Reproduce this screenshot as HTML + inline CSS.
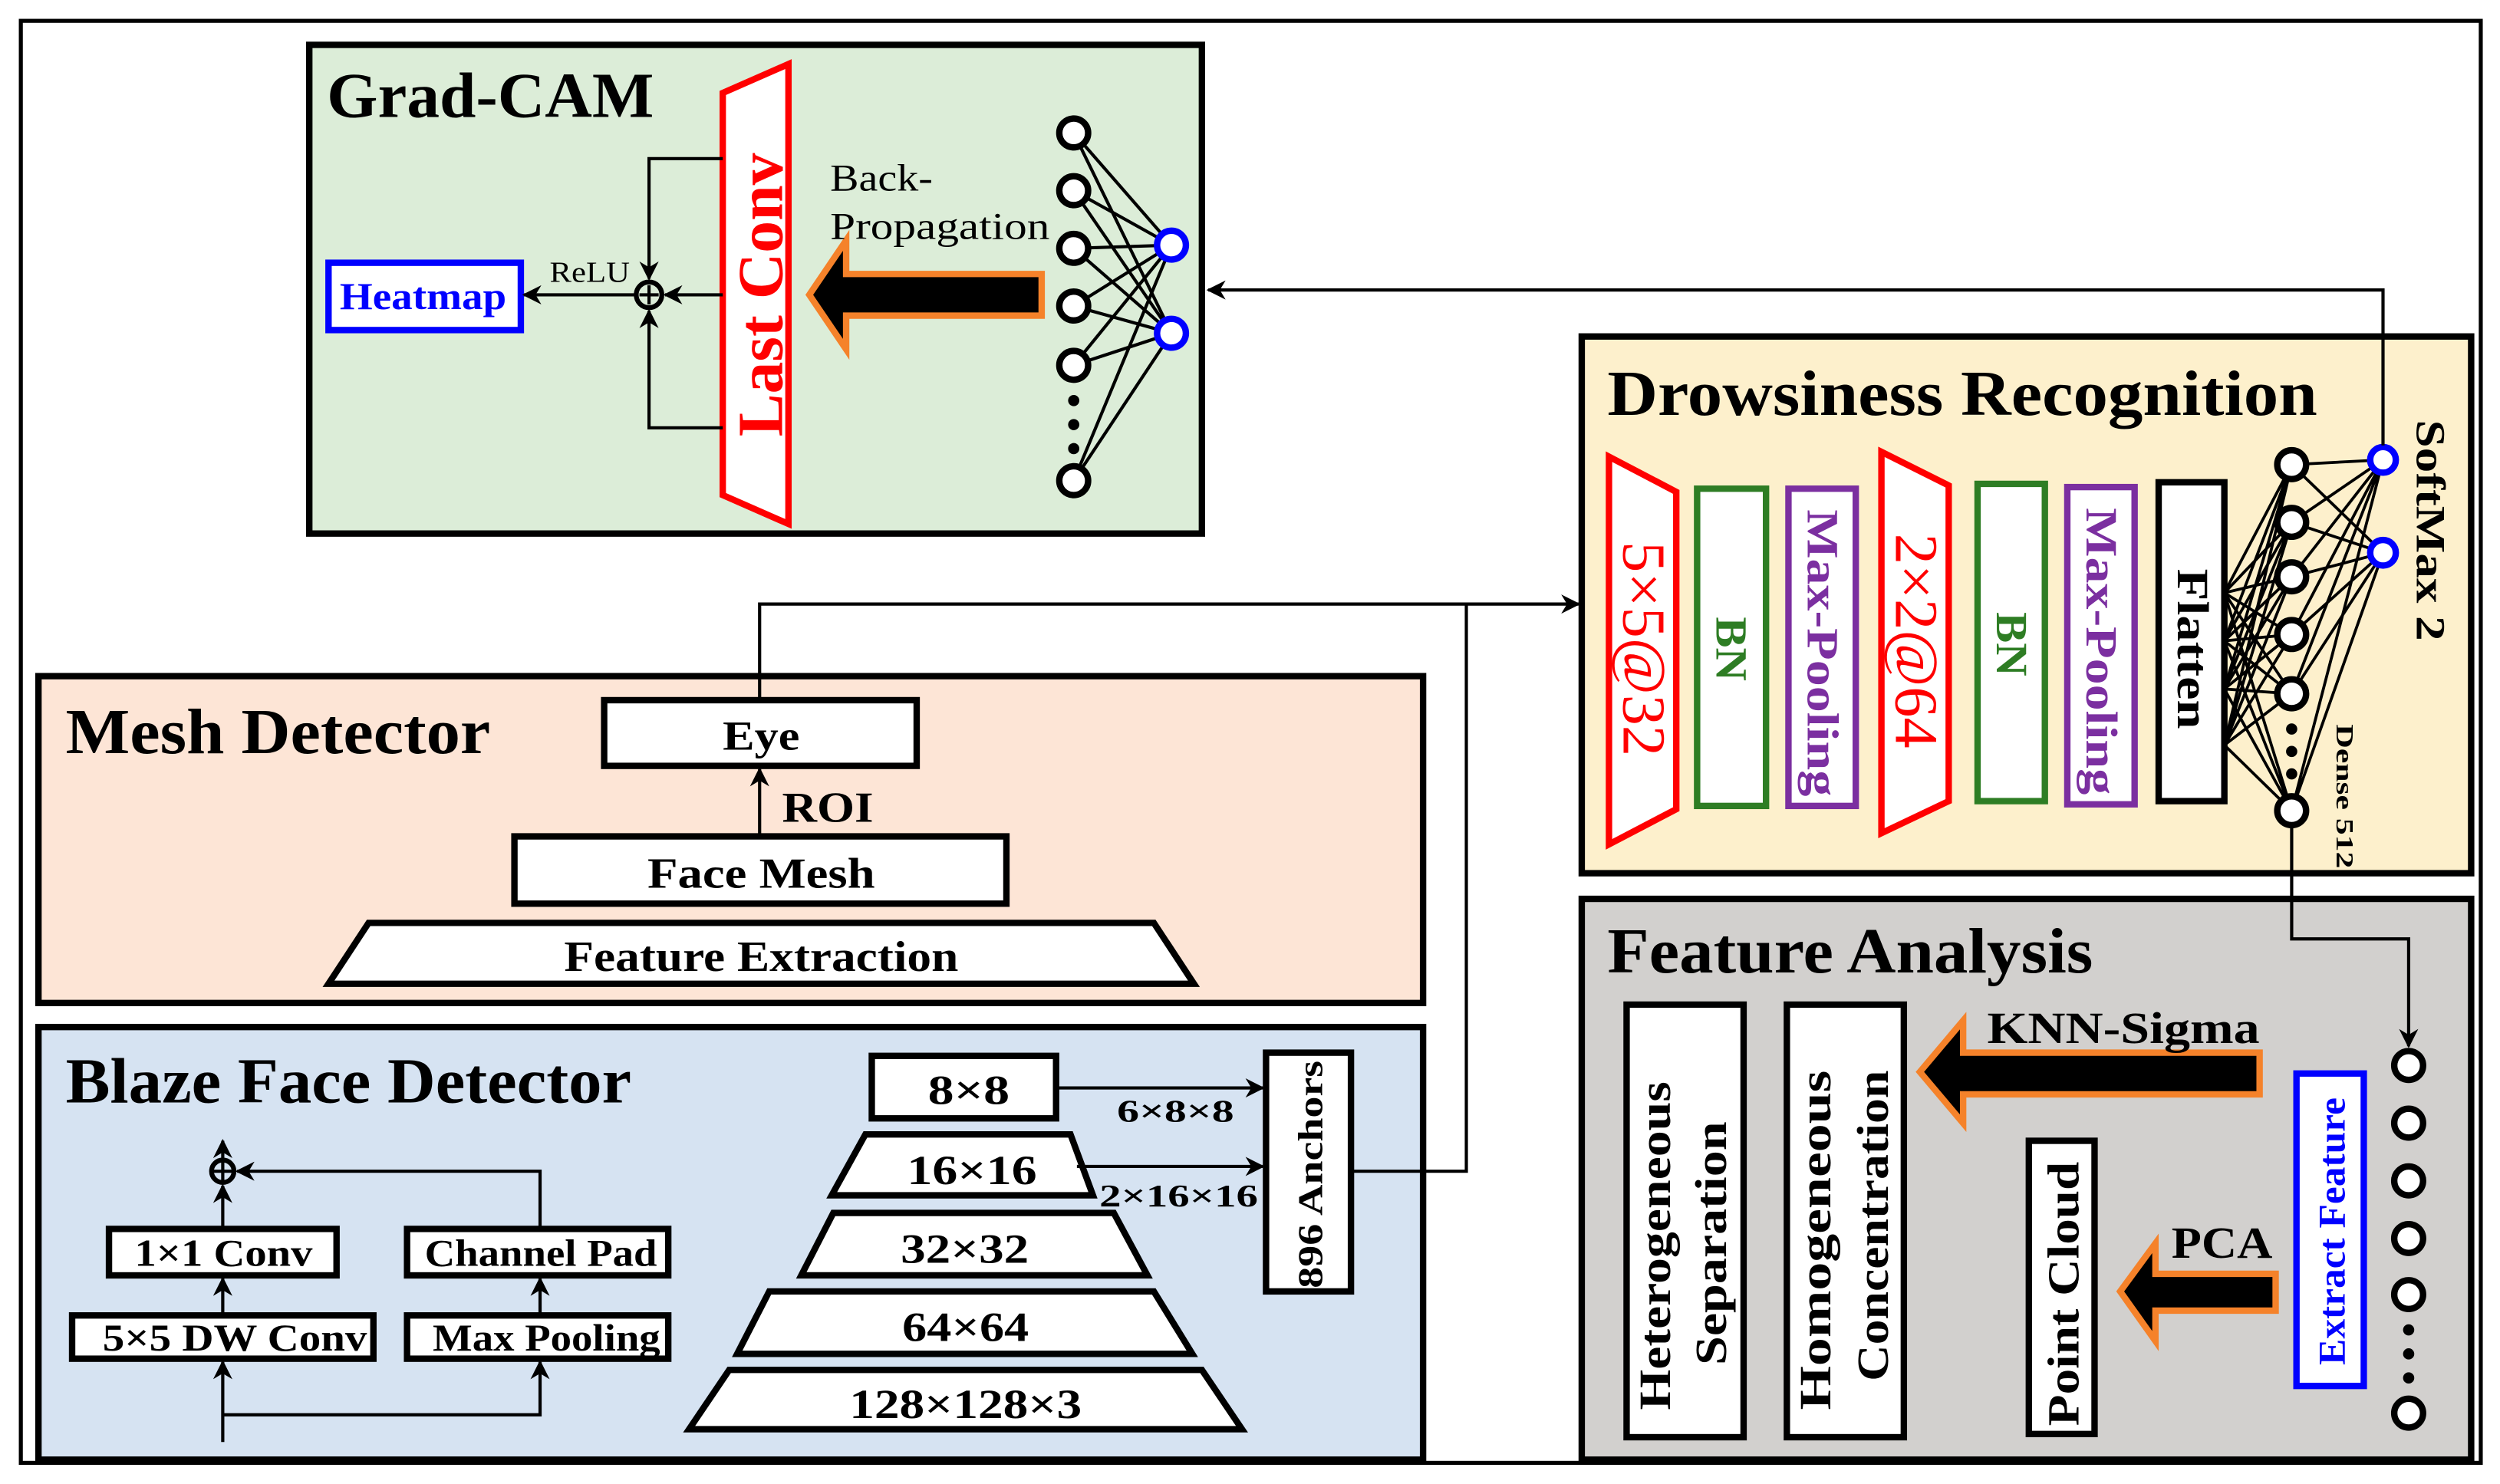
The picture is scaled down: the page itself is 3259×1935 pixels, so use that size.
<!DOCTYPE html>
<html><head><meta charset="utf-8"><style>html,body{margin:0;padding:0;background:#fff}svg{display:block}</style></head><body>
<svg width="3259" height="1935" viewBox="0 0 1560 926.2" preserveAspectRatio="none" xmlns="http://www.w3.org/2000/svg" font-family="Liberation Serif, serif">
<defs>
<marker id="ab" viewBox="0 0 10 10" refX="9" refY="5" markerWidth="12" markerHeight="12" markerUnits="userSpaceOnUse" orient="auto"><path d="M0,0 L10,5 L0,10 L3,5 z" fill="#000"/></marker>
</defs>
<rect width="1560" height="926.2" fill="#fff"/>
<rect x="13" y="13" width="1535" height="900" fill="none" stroke="#000" stroke-width="2.5"/>

<!-- Grad-CAM -->
<rect x="193" y="28" width="557" height="305" fill="#dcedd8" stroke="#000" stroke-width="4"/>
<text x="204" y="73" font-size="40" font-weight="bold" textLength="204" lengthAdjust="spacingAndGlyphs">Grad-CAM</text>
<polygon points="451,58 492,40 492,327 451,309" fill="#fff" stroke="#f00" stroke-width="4"/>
<text transform="translate(488,184) rotate(-90)" text-anchor="middle" font-size="40" font-weight="bold" fill="#f00" textLength="177" lengthAdjust="spacingAndGlyphs">Last Conv</text>
<rect x="205" y="164" width="120" height="42" fill="#fff" stroke="#00f" stroke-width="4"/>
<text x="212" y="193" font-size="24" font-weight="bold" fill="#00f" textLength="104" lengthAdjust="spacingAndGlyphs">Heatmap</text>
<circle cx="405" cy="184" r="8" fill="none" stroke="#000" stroke-width="3"/>
<line x1="399" y1="184" x2="411" y2="184" stroke="#000" stroke-width="2"/><line x1="405" y1="178" x2="405" y2="190" stroke="#000" stroke-width="2"/>
<polyline points="451,99 405,99 405,174" fill="none" stroke="#000" stroke-width="2" marker-end="url(#ab)"/>
<polyline points="451,267 405,267 405,194" fill="none" stroke="#000" stroke-width="2" marker-end="url(#ab)"/>
<line x1="451" y1="184" x2="415" y2="184" stroke="#000" stroke-width="2" marker-end="url(#ab)"/>
<line x1="397" y1="184" x2="327" y2="184" stroke="#000" stroke-width="2" marker-end="url(#ab)"/>
<text x="343" y="176" font-size="18" textLength="50" lengthAdjust="spacingAndGlyphs">ReLU</text>
<polygon points="505,184 528,150 528,171 650,171 650,197 528,197 528,218" fill="#000" stroke="#f5822a" stroke-width="4"/>
<text x="518" y="119" font-size="24" textLength="64" lengthAdjust="spacingAndGlyphs">Back-</text>
<text x="518" y="149" font-size="24" textLength="137" lengthAdjust="spacingAndGlyphs">Propagation</text>
<g stroke="#000" stroke-width="2">
<line x1="670" y1="83" x2="731" y2="153"/><line x1="670" y1="83" x2="731" y2="208"/>
<line x1="670" y1="119" x2="731" y2="153"/><line x1="670" y1="119" x2="731" y2="208"/>
<line x1="670" y1="155" x2="731" y2="153"/><line x1="670" y1="155" x2="731" y2="208"/>
<line x1="670" y1="191" x2="731" y2="153"/><line x1="670" y1="191" x2="731" y2="208"/>
<line x1="670" y1="228" x2="731" y2="153"/><line x1="670" y1="228" x2="731" y2="208"/>
<line x1="670" y1="300" x2="731" y2="153"/><line x1="670" y1="300" x2="731" y2="208"/>
</g>
<g fill="#fff" stroke="#000" stroke-width="4">
<circle cx="670" cy="83" r="9"/><circle cx="670" cy="119" r="9"/><circle cx="670" cy="155" r="9"/><circle cx="670" cy="191" r="9"/><circle cx="670" cy="228" r="9"/><circle cx="670" cy="300" r="9"/>
</g>
<g fill="#000"><circle cx="670" cy="250" r="3.5"/><circle cx="670" cy="265" r="3.5"/><circle cx="670" cy="280" r="3.5"/></g>
<g fill="#fff" stroke="#00f" stroke-width="4"><circle cx="731" cy="153" r="9"/><circle cx="731" cy="208" r="9"/></g>

<!-- Drowsiness -->
<rect x="987" y="210" width="555" height="335" fill="#fdf0cc" stroke="#000" stroke-width="4"/>
<text x="1003" y="259" font-size="40" font-weight="bold" textLength="443" lengthAdjust="spacingAndGlyphs">Drowsiness Recognition</text>
<polygon points="1004,285 1046,307 1046,505 1004,527" fill="#fff" stroke="#f00" stroke-width="4"/>
<text x="0" y="0" transform="translate(1013,338) rotate(90)" font-size="38" fill="#f00" textLength="134" lengthAdjust="spacingAndGlyphs">5×5@32</text>
<rect x="1059" y="305" width="43" height="198" fill="#fff" stroke="#2e7d24" stroke-width="4"/>
<text transform="translate(1071,385) rotate(90)" font-size="28" font-weight="bold" fill="#2e7d24" textLength="40" lengthAdjust="spacingAndGlyphs">BN</text>
<rect x="1116" y="305" width="42" height="198" fill="#fff" stroke="#7b2fa0" stroke-width="4"/>
<text transform="translate(1128,318) rotate(90)" font-size="28" font-weight="bold" fill="#7b2fa0" textLength="179" lengthAdjust="spacingAndGlyphs">Max-Pooling</text>
<polygon points="1174,282 1216,303 1216,500 1174,520" fill="#fff" stroke="#f00" stroke-width="4"/>
<text transform="translate(1183,333) rotate(90)" font-size="38" fill="#f00" textLength="134" lengthAdjust="spacingAndGlyphs">2×2@64</text>
<rect x="1234" y="302" width="42" height="198" fill="#fff" stroke="#2e7d24" stroke-width="4"/>
<text transform="translate(1246,382) rotate(90)" font-size="28" font-weight="bold" fill="#2e7d24" textLength="40" lengthAdjust="spacingAndGlyphs">BN</text>
<rect x="1290" y="304" width="42" height="198" fill="#fff" stroke="#7b2fa0" stroke-width="4"/>
<text transform="translate(1302,317) rotate(90)" font-size="28" font-weight="bold" fill="#7b2fa0" textLength="179" lengthAdjust="spacingAndGlyphs">Max-Pooling</text>
<rect x="1347" y="301" width="41" height="199" fill="#fff" stroke="#000" stroke-width="4"/>
<text transform="translate(1359,355) rotate(90)" font-size="28" font-weight="bold" textLength="100" lengthAdjust="spacingAndGlyphs">Flatten</text>
<g stroke="#000" stroke-width="1.8">
<path d="M1388,370 L1430,290 M1388,370 L1430,326 M1388,370 L1430,360 M1388,370 L1430,396 M1388,370 L1430,433 M1388,370 L1430,506
M1388,400 L1430,290 M1388,400 L1430,326 M1388,400 L1430,360 M1388,400 L1430,396 M1388,400 L1430,433 M1388,400 L1430,506
M1388,430 L1430,290 M1388,430 L1430,326 M1388,430 L1430,360 M1388,430 L1430,396 M1388,430 L1430,433 M1388,430 L1430,506
M1388,465 L1430,290 M1388,465 L1430,326 M1388,465 L1430,360 M1388,465 L1430,396 M1388,465 L1430,433 M1388,465 L1430,506
M1430,290 L1487,287 M1430,290 L1487,345 M1430,326 L1487,287 M1430,326 L1487,345 M1430,360 L1487,287 M1430,360 L1487,345
M1430,396 L1487,287 M1430,396 L1487,345 M1430,433 L1487,287 M1430,433 L1487,345 M1430,506 L1487,287 M1430,506 L1487,345"/>
</g>
<g fill="#fff" stroke="#000" stroke-width="4">
<circle cx="1430" cy="290" r="9"/><circle cx="1430" cy="326" r="9"/><circle cx="1430" cy="360" r="9"/><circle cx="1430" cy="396" r="9"/><circle cx="1430" cy="433" r="9"/><circle cx="1430" cy="506" r="9"/>
</g>
<g fill="#000"><circle cx="1430" cy="455" r="3.5"/><circle cx="1430" cy="469" r="3.5"/><circle cx="1430" cy="483" r="3.5"/></g>
<g fill="#fff" stroke="#00f" stroke-width="4"><circle cx="1487" cy="287" r="8"/><circle cx="1487" cy="345" r="8"/></g>
<text transform="translate(1508,262) rotate(90)" font-size="26" font-weight="bold" textLength="138" lengthAdjust="spacingAndGlyphs">SoftMax 2</text>
<text transform="translate(1458,452) rotate(90)" font-size="15" font-weight="bold" textLength="90" lengthAdjust="spacingAndGlyphs">Dense 512</text>

<!-- Mesh detector -->
<rect x="24" y="422" width="864" height="204" fill="#fde5d6" stroke="#000" stroke-width="4"/>
<text x="41" y="470" font-size="40" font-weight="bold" textLength="265" lengthAdjust="spacingAndGlyphs">Mesh Detector</text>
<rect x="377" y="437" width="195" height="41" fill="#fff" stroke="#000" stroke-width="4"/>
<text x="451" y="468" font-size="26" font-weight="bold" textLength="48" lengthAdjust="spacingAndGlyphs">Eye</text>
<text x="488" y="513" font-size="27" font-weight="bold" textLength="57" lengthAdjust="spacingAndGlyphs">ROI</text>
<rect x="321" y="522" width="307" height="42" fill="#fff" stroke="#000" stroke-width="4"/>
<text x="404" y="554" font-size="27" font-weight="bold" textLength="142" lengthAdjust="spacingAndGlyphs">Face Mesh</text>
<polygon points="230,576 720,576 745,614 205,614" fill="#fff" stroke="#000" stroke-width="4"/>
<text x="352" y="606" font-size="27" font-weight="bold" textLength="246" lengthAdjust="spacingAndGlyphs">Feature Extraction</text>

<!-- Blaze -->
<rect x="24" y="641" width="864" height="270" fill="#d6e3f2" stroke="#000" stroke-width="4"/>
<text x="41" y="688" font-size="40" font-weight="bold" textLength="353" lengthAdjust="spacingAndGlyphs">Blaze Face Detector</text>
<rect x="544" y="659" width="115" height="39" fill="#fff" stroke="#000" stroke-width="4"/>
<text x="579" y="689" font-size="26" font-weight="bold" textLength="51" lengthAdjust="spacingAndGlyphs">8×8</text>
<polygon points="540,708 668,708 682,746 519,746" fill="#fff" stroke="#000" stroke-width="4"/>
<text x="566" y="739" font-size="26" font-weight="bold" textLength="81" lengthAdjust="spacingAndGlyphs">16×16</text>
<polygon points="520,757 695,757 716,796 500,796" fill="#fff" stroke="#000" stroke-width="4"/>
<text x="562" y="788" font-size="26" font-weight="bold" textLength="80" lengthAdjust="spacingAndGlyphs">32×32</text>
<polygon points="480,806 720,806 744,845 460,845" fill="#fff" stroke="#000" stroke-width="4"/>
<text x="563" y="837" font-size="26" font-weight="bold" textLength="79" lengthAdjust="spacingAndGlyphs">64×64</text>
<polygon points="455,855 750,855 775,892 430,892" fill="#fff" stroke="#000" stroke-width="4"/>
<text x="530" y="885" font-size="26" font-weight="bold" textLength="145" lengthAdjust="spacingAndGlyphs">128×128×3</text>
<rect x="790" y="657" width="53" height="149" fill="#fff" stroke="#000" stroke-width="4"/>
<text transform="translate(825,804) rotate(-90)" font-size="22" font-weight="bold" textLength="142" lengthAdjust="spacingAndGlyphs">896 Anchors</text>
<text x="697" y="700" font-size="20" font-weight="bold" textLength="73" lengthAdjust="spacingAndGlyphs">6×8×8</text>
<text x="686" y="753" font-size="20" font-weight="bold" textLength="99" lengthAdjust="spacingAndGlyphs">2×16×16</text>
<rect x="68" y="767" width="142" height="29" fill="#fff" stroke="#000" stroke-width="4"/>
<text x="84" y="790" font-size="24" font-weight="bold" textLength="111" lengthAdjust="spacingAndGlyphs">1×1 Conv</text>
<rect x="254" y="767" width="163" height="29" fill="#fff" stroke="#000" stroke-width="4"/>
<text x="265" y="790" font-size="24" font-weight="bold" textLength="145" lengthAdjust="spacingAndGlyphs">Channel Pad</text>
<rect x="45" y="821" width="188" height="27" fill="#fff" stroke="#000" stroke-width="4"/>
<text x="64" y="843" font-size="24" font-weight="bold" textLength="165" lengthAdjust="spacingAndGlyphs">5×5 DW Conv</text>
<rect x="254" y="821" width="163" height="27" fill="#fff" stroke="#000" stroke-width="4"/>
<text x="270" y="843" font-size="24" font-weight="bold" textLength="142" lengthAdjust="spacingAndGlyphs">Max Pooling</text>
<circle cx="139" cy="731" r="7" fill="none" stroke="#000" stroke-width="3"/>
<line x1="133" y1="731" x2="145" y2="731" stroke="#000" stroke-width="2"/><line x1="139" y1="725" x2="139" y2="737" stroke="#000" stroke-width="2"/>

<!-- Feature Analysis -->
<rect x="987" y="561" width="555" height="350" fill="#d2d0ce" stroke="#000" stroke-width="4"/>
<text x="1003" y="607" font-size="40" font-weight="bold" textLength="303" lengthAdjust="spacingAndGlyphs">Feature Analysis</text>
<rect x="1015" y="627" width="73" height="270" fill="#fff" stroke="#000" stroke-width="4"/>
<text transform="translate(1042,880) rotate(-90)" font-size="28" font-weight="bold" textLength="205" lengthAdjust="spacingAndGlyphs">Heterogeneous</text>
<text transform="translate(1077,852) rotate(-90)" font-size="28" font-weight="bold" textLength="152" lengthAdjust="spacingAndGlyphs">Separation</text>
<rect x="1115" y="627" width="73" height="270" fill="#fff" stroke="#000" stroke-width="4"/>
<text transform="translate(1142,880) rotate(-90)" font-size="28" font-weight="bold" textLength="212" lengthAdjust="spacingAndGlyphs">Homogeneous</text>
<text transform="translate(1178,862) rotate(-90)" font-size="28" font-weight="bold" textLength="194" lengthAdjust="spacingAndGlyphs">Concentration</text>
<rect x="1266" y="712" width="41" height="183" fill="#fff" stroke="#000" stroke-width="4"/>
<text transform="translate(1297,890) rotate(-90)" font-size="28" font-weight="bold" textLength="165" lengthAdjust="spacingAndGlyphs">Point Cloud</text>
<rect x="1433" y="670" width="42" height="195" fill="#fff" stroke="#00f" stroke-width="4"/>
<text transform="translate(1463,852) rotate(-90)" font-size="24" font-weight="bold" fill="#00f" textLength="167" lengthAdjust="spacingAndGlyphs">Extract Feature</text>
<polygon points="1198,669 1225,637 1225,657 1410,657 1410,683 1225,683 1225,701" fill="#000" stroke="#f5822a" stroke-width="4"/>
<text x="1240" y="651" font-size="28" font-weight="bold" textLength="170" lengthAdjust="spacingAndGlyphs">KNN-Sigma</text>
<polygon points="1323,806 1345,776 1345,795 1420,795 1420,818 1345,818 1345,837" fill="#000" stroke="#f5822a" stroke-width="4"/>
<text x="1355" y="785" font-size="28" font-weight="bold" textLength="63" lengthAdjust="spacingAndGlyphs">PCA</text>
<g fill="#fff" stroke="#000" stroke-width="4">
<circle cx="1503" cy="665" r="9"/><circle cx="1503" cy="701" r="9"/><circle cx="1503" cy="737" r="9"/><circle cx="1503" cy="773" r="9"/><circle cx="1503" cy="808" r="9"/><circle cx="1503" cy="882" r="9"/>
</g>
<g fill="#000"><circle cx="1503" cy="830" r="3.5"/><circle cx="1503" cy="845" r="3.5"/><circle cx="1503" cy="860" r="3.5"/></g>

<!-- connectors on top -->
<g stroke="#000" stroke-width="2" fill="none">
<polyline points="1487,278 1487,181 754,181" marker-end="url(#ab)"/>
<polyline points="1430,515 1430,586 1503,586 1503,653" marker-end="url(#ab)"/>
<polyline points="474,437 474,377 985,377" marker-end="url(#ab)"/>
<polyline points="843,731 915,731 915,377"/>
<line x1="474" y1="522" x2="474" y2="480" marker-end="url(#ab)"/>
<line x1="659" y1="679" x2="788" y2="679" marker-end="url(#ab)"/>
<line x1="672" y1="728" x2="788" y2="728" marker-end="url(#ab)"/>
<line x1="139" y1="900" x2="139" y2="850" marker-end="url(#ab)"/>
<polyline points="139,883 337,883 337,850" marker-end="url(#ab)"/>
<line x1="139" y1="821" x2="139" y2="798" marker-end="url(#ab)"/>
<line x1="337" y1="821" x2="337" y2="798" marker-end="url(#ab)"/>
<line x1="139" y1="767" x2="139" y2="740" marker-end="url(#ab)"/>
<line x1="139" y1="724" x2="139" y2="712" marker-end="url(#ab)"/>
<polyline points="337,767 337,731 148,731" marker-end="url(#ab)"/>
</g>
</svg>
</body></html>
